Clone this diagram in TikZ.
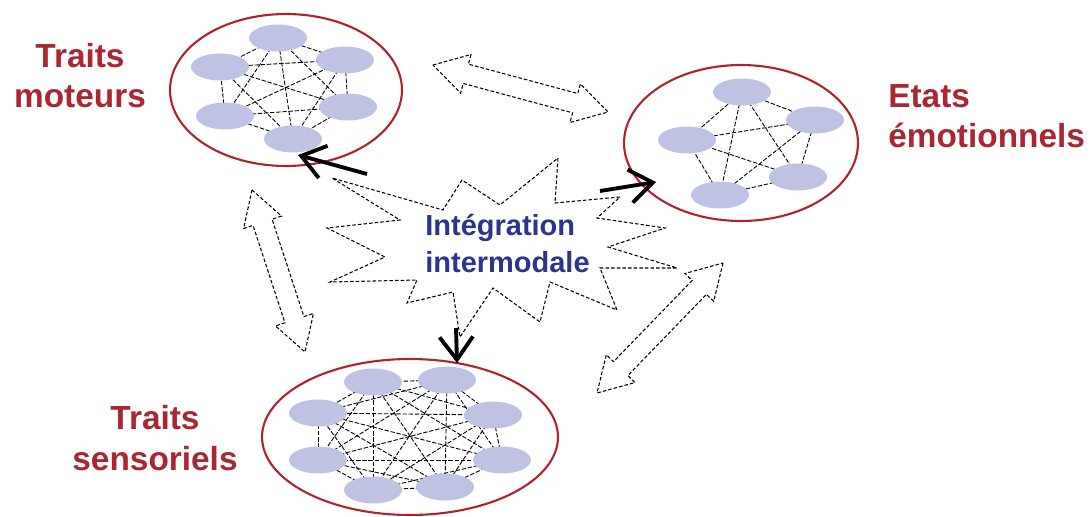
\documentclass[tikz,border=0pt]{standalone}
\usepackage{fontspec}
\setmainfont{Liberation Sans}
\usetikzlibrary{shapes.geometric,arrows.meta,calc,backgrounds}

\definecolor{ringred}{RGB}{178,34,44}
\definecolor{labelred}{RGB}{170,38,50}
\definecolor{cellblue}{RGB}{191,194,226}
\definecolor{textblue}{RGB}{44,52,140}

% hollow two-headed arrow between two points
\newcommand{\twoway}[2]{%
  \draw[hollow] (#1)
    -- ($(#1)!0.68cm!(#2)!0.4cm!90:(#2)$)
    -- ($(#1)!0.68cm!(#2)!0.2cm!90:(#2)$)
    -- ($(#2)!0.68cm!(#1)!0.2cm!-90:(#1)$)
    -- ($(#2)!0.68cm!(#1)!0.4cm!-90:(#1)$)
    -- (#2)
    -- ($(#2)!0.68cm!(#1)!0.4cm!90:(#1)$)
    -- ($(#2)!0.68cm!(#1)!0.2cm!90:(#1)$)
    -- ($(#1)!0.68cm!(#2)!0.2cm!-90:(#2)$)
    -- ($(#1)!0.68cm!(#2)!0.4cm!-90:(#2)$)
    -- cycle;}

\begin{document}
\begin{tikzpicture}[x=0.02cm,y=-0.02cm,
  ring/.style={ellipse,draw=ringred,line width=1.2pt,inner sep=0pt},
  cell/.style={ellipse,fill=cellblue,minimum width=1.16cm,minimum height=0.54cm,inner sep=0pt},
  link/.style={line width=0.5pt,dash pattern=on 2.5pt off 1pt},
  hollow/.style={line width=0.6pt,dash pattern=on 2pt off 1.2pt},
  pointer/.style={line width=2.2pt,-{Straight Barb[length=13pt,width=19pt]}},
  heading/.style={text=labelred,font=\fontsize{19}{23}\selectfont\bfseries,inner sep=0pt},
  midtext/.style={text=textblue,font=\fontsize{16.5}{21}\selectfont\bfseries,inner sep=0pt}]
\useasboundingbox (0,0) rectangle (1092,517);

% the three groups
\node[ring,minimum width=4.64cm,minimum height=3.04cm] (motor) at (286,90) {};
\node[ring,minimum width=4.68cm,minimum height=3.12cm] (emot) at (741,143) {};
\node[ring,minimum width=5.92cm,minimum height=3.12cm] (sensor) at (410,437) {};

\node[cell] (m1) at (278,38) {};
\node[cell] (m2) at (345,60) {};
\node[cell] (m3) at (348,107) {};
\node[cell] (m4) at (293,139) {};
\node[cell] (m5) at (225,116) {};
\node[cell] (m6) at (220,67) {};

\node[cell] (e1) at (742,92) {};
\node[cell] (e2) at (815,120) {};
\node[cell] (e3) at (798,177) {};
\node[cell] (e4) at (720,195) {};
\node[cell] (e5) at (687,140) {};

\node[cell] (s1) at (373,382) {};
\node[cell] (s2) at (447,380) {};
\node[cell] (s3) at (493,415) {};
\node[cell] (s4) at (502,460) {};
\node[cell] (s5) at (445,487) {};
\node[cell] (s6) at (373,490) {};
\node[cell] (s7) at (318,460) {};
\node[cell] (s8) at (318,413) {};

\begin{scope}[on background layer]
\foreach \c/\n in {m/6,e/5,s/8}
  \foreach \i in {1,...,\n}
    \foreach \j in {1,...,\n}
      {\ifnum\i<\j \draw[link] (\c\i.center) -- (\c\j.center); \fi}
\end{scope}

% labels
\node[heading,align=center,anchor=base] (motorlbl) at (80,108) {Traits\\moteurs};
\node[heading,align=left,anchor=base west] (emotlbl) at (888,148) {Etats\\émotionnels};
\node[heading,align=center,anchor=base] (sensorlbl) at (155,470) {Traits\\sensoriels};

% burst in the middle
\draw[hollow] (558,158) -- (555,203) -- (620,197) -- (597,218) -- (665,228)
  -- (608,247) -- (677,268) -- (600,268) -- (617,310) -- (550,282)
  -- (540,322) -- (493,288) -- (460,337) -- (453,292) -- (407,303)
  -- (417,280) -- (330,282) -- (385,257) -- (327,228) -- (400,220)
  -- (332,178) -- (443,210) -- (462,180) -- (500,205) -- cycle;
\node[midtext,align=left,anchor=base west] (integ) at (425,272) {Intégration\\intermodale};

% arrows out of the burst
\coordinate (outm) at (367,174);
\coordinate (tipm) at (298,155);
\coordinate (oute) at (600,191);
\coordinate (tipe) at (656,182);
\coordinate (outs) at (456,328);
\coordinate (tips) at (457,363);
\draw[pointer] (outm) -- (tipm);
\draw[pointer] (oute) -- (tipe);
\draw[pointer] (outs) -- (tips);

% exchanges between groups
\coordinate (a1) at (433,65);
\coordinate (b1) at (608,112);
\coordinate (a2) at (252,190);
\coordinate (b2) at (305,352);
\coordinate (a3) at (723,263);
\coordinate (b3) at (597,393);
\twoway{a1}{b1}
\twoway{a2}{b2}
\twoway{a3}{b3}
\end{tikzpicture}
\end{document}
